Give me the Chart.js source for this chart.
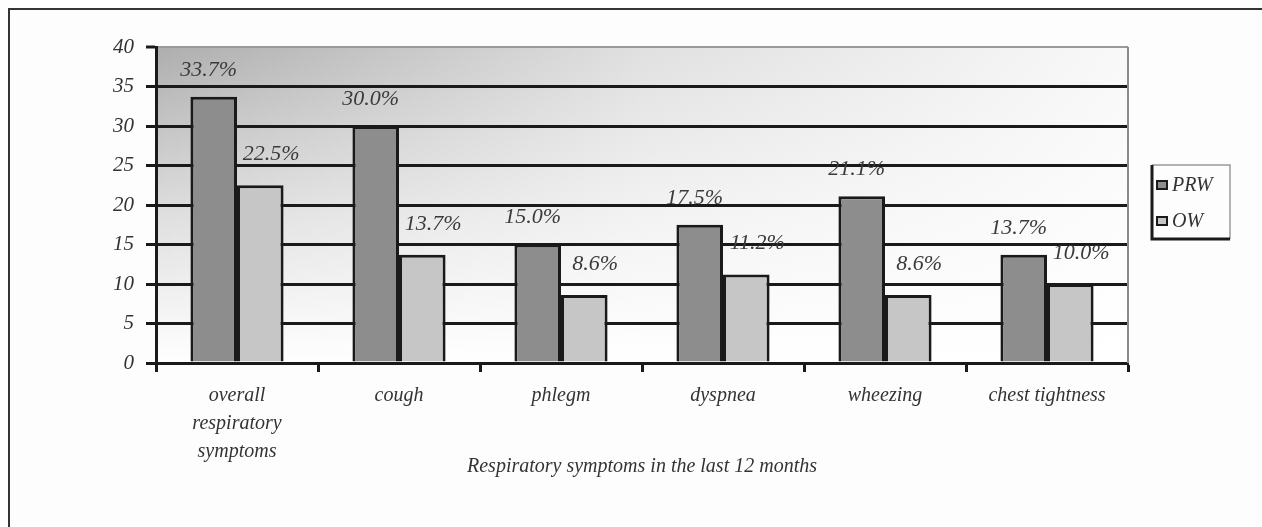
<!DOCTYPE html>
<html><head><meta charset="utf-8">
<script src="https://cdn.jsdelivr.net/npm/chart.js@4/dist/chart.umd.min.js"></script>
<style>html,body{margin:0;padding:0;background:#fff}#wrap{width:1262px;height:527px;position:relative}</style>
</head><body><div id="wrap"><canvas id="c"></canvas></div>
<script>
const categories = [["overall","respiratory","symptoms"], "cough", "phlegm", "dyspnea", "wheezing", "chest tightness"];
const seriesNames = ["PRW", "OW"];
const prwValues = [33.7, 30.0, 15.0, 17.5, 21.1, 13.7];
const owValues = [22.5, 13.7, 8.6, 11.2, 8.6, 10.0];
const yTickValues = [0, 5, 10, 15, 20, 25, 30, 35, 40];
const xAxisTitle = "Respiratory symptoms in the last 12 months";

const FONT = '"Liberation Serif", "DejaVu Serif", serif';
const fills = ['#8d8d8d', '#c6c6c6'];

const bgPlugin = {
  id: 'bg',
  beforeDraw(chart) {
    const ctx = chart.ctx, a = chart.chartArea;
    ctx.save();
    ctx.fillStyle = '#fdfdfd';
    ctx.fillRect(0, 0, chart.width, chart.height);
    ctx.strokeStyle = '#333';
    ctx.lineWidth = 2;
    ctx.beginPath();
    ctx.moveTo(9, chart.height); ctx.lineTo(9, 9); ctx.lineTo(chart.width, 9);
    ctx.stroke();
    const gv = ctx.createLinearGradient(0, a.top, 0, a.bottom);
    gv.addColorStop(0, '#aeaeae');
    gv.addColorStop(0.55, '#e0e0e0');
    gv.addColorStop(1, '#ffffff');
    ctx.fillStyle = gv;
    ctx.fillRect(a.left, a.top, a.right - a.left, a.bottom - a.top);
    const gh = ctx.createLinearGradient(a.left, 0, a.right, 0);
    gh.addColorStop(0, 'rgba(255,255,255,0)');
    gh.addColorStop(0.5, 'rgba(255,255,255,0.62)');
    gh.addColorStop(1, 'rgba(255,255,255,0.92)');
    ctx.fillStyle = gh;
    ctx.fillRect(a.left, a.top, a.right - a.left, a.bottom - a.top);
    ctx.restore();
  },
  afterDraw(chart) {
    const ctx = chart.ctx, a = chart.chartArea;
    ctx.save();
    ctx.strokeStyle = '#8a8a8a';
    ctx.lineWidth = 2;
    ctx.beginPath();
    ctx.moveTo(a.right, a.top); ctx.lineTo(a.right, a.bottom);
    ctx.stroke();
    ctx.fillStyle = '#333';
    ctx.font = 'italic 20px ' + FONT;
    ctx.textAlign = 'center';
    ctx.textBaseline = 'middle';
    ctx.fillText(xAxisTitle, 642, 467);
    const lx = 1152, ly = 165, lw = 78, lh = 74;
    ctx.strokeStyle = '#9a9a9a';
    ctx.lineWidth = 1.5;
    ctx.beginPath();
    ctx.moveTo(lx, ly); ctx.lineTo(lx + lw, ly); ctx.lineTo(lx + lw, ly + lh);
    ctx.stroke();
    ctx.strokeStyle = '#1a1a1a';
    ctx.lineWidth = 3;
    ctx.beginPath();
    ctx.moveTo(lx, ly); ctx.lineTo(lx, ly + lh); ctx.lineTo(lx + lw, ly + lh);
    ctx.stroke();
    const rows = [185, 221];
    chart.data.datasets.forEach((ds, i) => {
      const y = rows[i];
      ctx.fillStyle = ds.backgroundColor;
      ctx.fillRect(1157, y - 4, 10, 8);
      ctx.strokeStyle = '#1a1a1a';
      ctx.lineWidth = 2;
      ctx.strokeRect(1157, y - 4, 10, 8);
      ctx.fillStyle = '#333';
      ctx.font = 'italic 20px ' + FONT;
      ctx.textAlign = 'left';
      ctx.fillText(ds.label, 1172, y + 1);
    });
    ctx.restore();
  },
  afterDatasetsDraw(chart) {
    const ctx = chart.ctx;
    ctx.save();
    ctx.font = 'italic 22px ' + FONT;
    ctx.fillStyle = '#3a3a3a';
    ctx.textAlign = 'center';
    ctx.textBaseline = 'middle';
    chart.data.datasets.forEach((ds, i) => {
      chart.getDatasetMeta(i).data.forEach((bar, j) => {
        const v = ds.data[j];
        ctx.fillText(v.toFixed(1) + '%', bar.x + (i === 0 ? -5 : 11), bar.y - (i === 0 ? 27 : 31));
      });
    });
    ctx.restore();
  }
};

new Chart(document.getElementById('c'), {
  type: 'bar',
  data: {
    labels: categories,
    datasets: [
      { label: seriesNames[0], data: prwValues, backgroundColor: fills[0], borderColor: '#1a1a1a', borderWidth: 3 },
      { label: seriesNames[1], data: owValues, backgroundColor: fills[1], borderColor: '#1a1a1a', borderWidth: 3 }
    ]
  },
  options: {
    responsive: true,
    maintainAspectRatio: false,
    animation: false,
    datasets: { bar: { categoryPercentage: 0.575, barPercentage: 1.0 } },
    layout: { padding: { left: 0, right: 134, top: 47, bottom: 0 } },
    plugins: { legend: { display: false }, tooltip: { enabled: false }, title: { display: false } },
    scales: {
      x: {
        grid: { drawOnChartArea: false, drawTicks: true, tickLength: 9, tickWidth: 3, tickColor: '#1a1a1a', offset: true },
        border: { display: true, color: '#1a1a1a', width: 3 },
        ticks: { color: '#333', font: { family: FONT, style: 'italic', size: 20, lineHeight: 1.4 }, padding: 10, maxRotation: 0, autoSkip: false },
        afterFit(s) { s.height = 164; }
      },
      y: {
        min: 0, max: 40,
        afterBuildTicks(s) { s.ticks = yTickValues.map(v => ({ value: v })); },
        grid: {
          color: c => (c.tick && c.tick.value === 40) ? '#9a9a9a' : '#1a1a1a',
          lineWidth: c => (c.tick && c.tick.value === 40) ? 2 : 3,
          drawTicks: true, tickLength: 10, tickWidth: 3, tickColor: '#1a1a1a'
        },
        border: { display: true, color: '#1a1a1a', width: 3 },
        ticks: { color: '#333', font: { family: FONT, style: 'italic', size: 21 }, padding: 12 },
        afterFit(s) { s.width = 156; }
      }
    }
  },
  plugins: [bgPlugin]
});
</script>
</body></html>
